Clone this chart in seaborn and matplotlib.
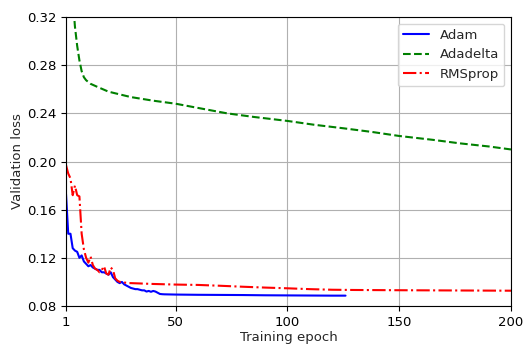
import matplotlib
matplotlib.use("Agg")
import matplotlib.pyplot as plt
import seaborn as sns

# ---- data ----
adam_epoch = list(range(1, 46)) + [50, 60, 70, 80, 90, 100, 110, 120, 126]
adam_loss = [0.173, 0.140, 0.140, 0.128, 0.126, 0.125, 0.120, 0.122, 0.117, 0.115,
             0.113, 0.114, 0.112, 0.111, 0.110, 0.110, 0.108, 0.108, 0.107, 0.106,
             0.108, 0.104, 0.102, 0.100, 0.099, 0.100, 0.098, 0.097, 0.096, 0.095,
             0.0945, 0.094, 0.094, 0.0935, 0.093, 0.093, 0.092, 0.0925, 0.0918, 0.0925,
             0.092, 0.091, 0.090, 0.0898, 0.0897,
             0.0895, 0.0893, 0.0892, 0.0891, 0.0889, 0.0888, 0.0887, 0.0886, 0.0886]

adadelta_epoch = list(range(1, 13)) + [15, 20, 30, 40, 50, 60, 73, 85, 100, 112,
                                       125, 138, 150, 165, 177, 190, 200]
adadelta_loss = [0.62, 0.46, 0.38, 0.336, 0.312, 0.296, 0.284, 0.275, 0.270, 0.2675,
                 0.266, 0.2645, 0.262, 0.258, 0.2535, 0.2505, 0.248, 0.2445, 0.240,
                 0.237, 0.2337, 0.2305, 0.2276, 0.2245, 0.2212, 0.218, 0.2151,
                 0.2125, 0.210]

rms_epoch = list(range(1, 31)) + [40, 50, 60, 70, 80, 90, 100, 110, 120, 130,
                                  150, 175, 200]
rms_loss = [0.197, 0.190, 0.186, 0.172, 0.180, 0.172, 0.171, 0.140, 0.127, 0.120,
            0.116, 0.121, 0.114, 0.111, 0.110, 0.108, 0.110, 0.113, 0.107, 0.106,
            0.112, 0.110, 0.103, 0.101, 0.100, 0.100, 0.0995, 0.0993, 0.099, 0.099,
            0.0983, 0.0978, 0.0975, 0.0968, 0.096, 0.0953, 0.0947, 0.094, 0.0935,
            0.0933, 0.0931, 0.0929, 0.0927]

x_ticks = [1, 50, 100, 150, 200]
y_ticks = [0.08, 0.12, 0.16, 0.20, 0.24, 0.28, 0.32]

# ---- plot ----
sns.set_style("ticks", {"axes.grid": True, "grid.color": "#b0b0b0",
                        "axes.edgecolor": "black"})
plt.rcParams["font.family"] = ["DejaVu Sans"]
plt.rcParams["font.size"] = 9.5

fig = plt.figure(figsize=(5.26, 3.47), dpi=100)
ax = fig.add_axes([66 / 526, 1 - 306 / 347, 445 / 526, 289 / 347])

sns.lineplot(x=adam_epoch, y=adam_loss, ax=ax, color="blue", linestyle="-",
             linewidth=1.5, label="Adam", estimator=None, sort=False)
sns.lineplot(x=adadelta_epoch, y=adadelta_loss, ax=ax, color="green", linestyle="--",
             linewidth=1.5, label="Adadelta", estimator=None, sort=False)
sns.lineplot(x=rms_epoch, y=rms_loss, ax=ax, color="red", linestyle="-.",
             linewidth=1.5, label="RMSprop", estimator=None, sort=False)

ax.set_xlim(1, 200)
ax.set_ylim(0.08, 0.32)
ax.set_xticks(x_ticks)
ax.set_xticklabels([str(t) for t in x_ticks])
ax.set_yticks(y_ticks)
ax.set_yticklabels([f"{t:.2f}" for t in y_ticks])
ax.grid(True, color="#b0b0b0", linewidth=0.8)
for s in ax.spines.values():
    s.set_linewidth(0.8)
    s.set_color("black")
ax.tick_params(direction="out", length=3.5, width=0.8, pad=3.5, colors="black",
               labelsize=9.5)
ax.set_xlabel("Training epoch", fontsize=9.5, labelpad=2)
ax.set_ylabel("Validation loss", fontsize=9.5, labelpad=2)
ax.legend(loc="upper right", fontsize=9.5, frameon=True, framealpha=0.8,
          edgecolor="#cccccc", fancybox=True)

fig.savefig("out.png", dpi=100)
